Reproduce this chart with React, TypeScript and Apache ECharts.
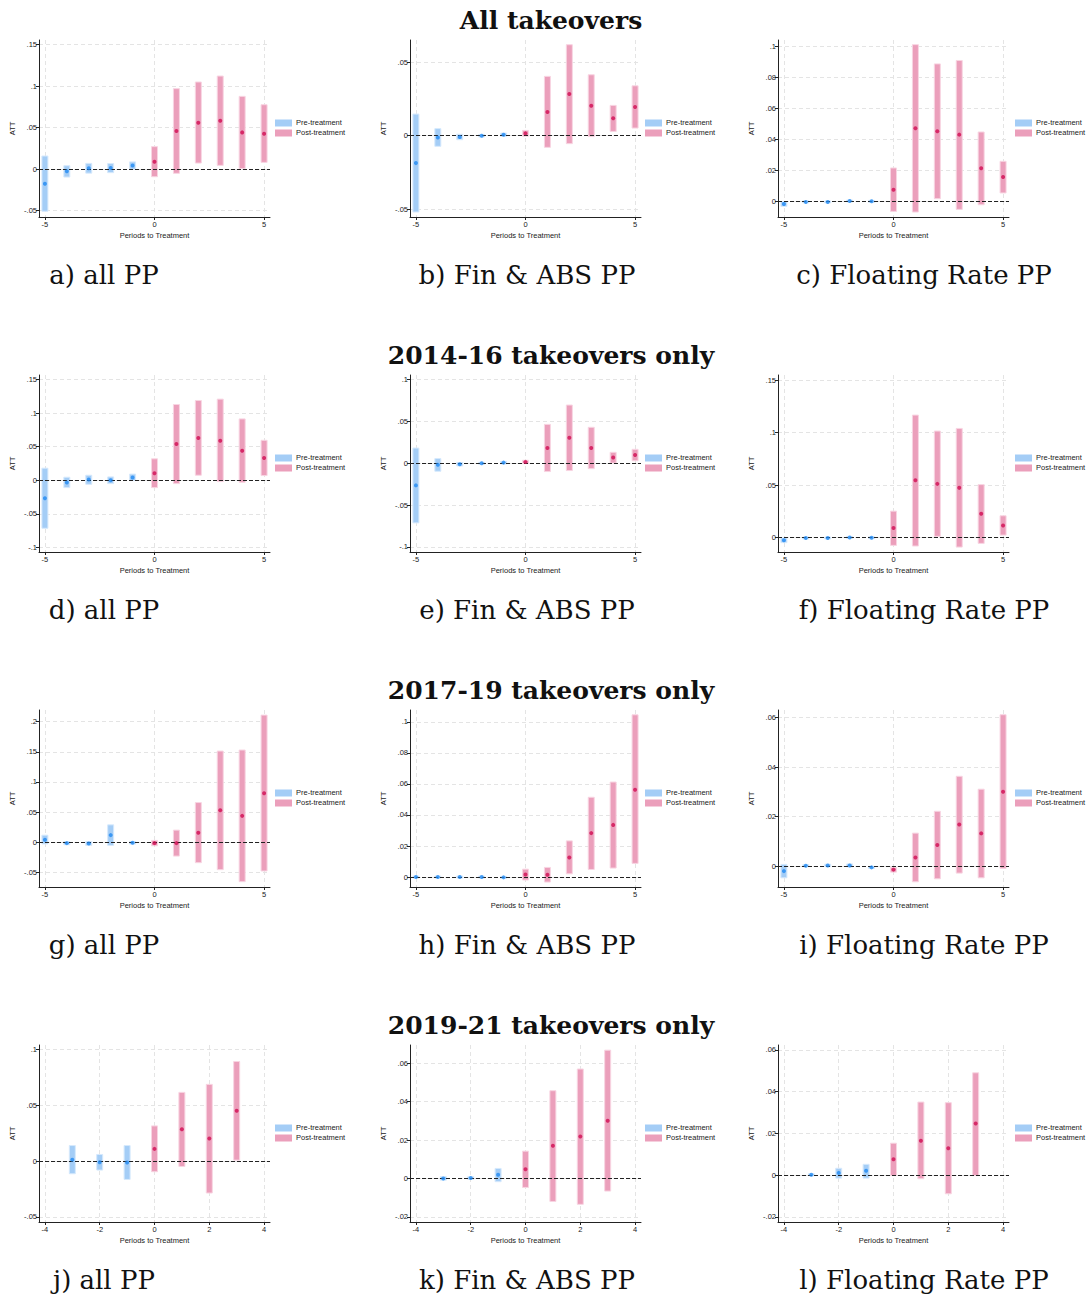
import React, { useEffect, useRef } from 'react';
import * as echarts from 'echarts';

// ---------- data ----------
const periodsPre10 = [-5, -4, -3, -2, -1];
const periodsPost10 = [0, 1, 2, 3, 4, 5];
const periodsPre8 = [-3, -2, -1];
const periodsPost8 = [0, 1, 2, 3];
const xTicks10 = [-5, 0, 5];
const xTicks8 = [-4, -2, 0, 2, 4];

const rowTitles = ['All takeovers', '2014-16 takeovers only', '2017-19 takeovers only', '2019-21 takeovers only'];
const captions = [
  'a) all PP', 'b) Fin & ABS PP', 'c) Floating Rate PP',
  'd) all PP', 'e) Fin & ABS PP', 'f) Floating Rate PP',
  'g) all PP', 'h) Fin & ABS PP', 'i) Floating Rate PP',
  'j) all PP', 'k) Fin & ABS PP', 'l) Floating Rate PP',
];
const legendNames = ['Pre-treatment', 'Post-treatment'];

// [estimate, lower, upper]
const aPre = [[-0.0177, -0.051, 0.0157], [-0.0027, -0.0097, 0.004], [0.001, -0.005, 0.0068], [0.0012, -0.0044, 0.0066], [0.0042, -0.0003, 0.0086]];
const aPost = [[0.0088, -0.0093, 0.027], [0.0459, -0.0052, 0.097], [0.0559, 0.0072, 0.105], [0.0583, 0.0044, 0.1122], [0.0442, 0.0005, 0.0877], [0.0426, 0.008, 0.0776]];
const bPre = [[-0.0186, -0.0518, 0.0147], [-0.0012, -0.0072, 0.0048], [-0.0009, -0.0027, 0.001], [0.0, -0.0009, 0.0009], [0.0007, -0.0004, 0.0018]];
const bPost = [[0.0016, -0.0003, 0.0036], [0.0161, -0.0079, 0.0403], [0.0283, -0.0054, 0.0618], [0.0204, -0.0006, 0.0414], [0.0118, 0.0029, 0.0206], [0.0195, 0.0052, 0.0339]];
const cPre = [[-0.0017, -0.0033, -0.0001], [-0.0004, -0.0008, 0.0001], [-0.0004, -0.0008, 0.0], [0.0002, -0.0002, 0.0006], [0.0, -0.0004, 0.0004]];
const cPost = [[0.0075, -0.0065, 0.0215], [0.0471, -0.0069, 0.101], [0.0452, 0.0017, 0.0886], [0.043, -0.0052, 0.0908], [0.0213, -0.0022, 0.0447], [0.0157, 0.0054, 0.0258]];
const dPre = [[-0.0268, -0.0716, 0.018], [-0.0032, -0.011, 0.0045], [0.0012, -0.006, 0.0075], [0.0, -0.005, 0.005], [0.0042, -0.0005, 0.0092]];
const dPost = [[0.0105, -0.011, 0.032], [0.054, -0.005, 0.113], [0.063, 0.0075, 0.119], [0.059, -0.002, 0.121], [0.044, -0.003, 0.0915], [0.0333, 0.007, 0.0596]];
const ePre = [[-0.0264, -0.0712, 0.0182], [-0.0018, -0.0095, 0.0056], [-0.0012, -0.0032, 0.001], [0.0, -0.0008, 0.0008], [0.0008, -0.0008, 0.0024]];
const ePost = [[0.0016, -0.0004, 0.0036], [0.0183, -0.0099, 0.0465], [0.0306, -0.0087, 0.0696], [0.0183, -0.0064, 0.043], [0.0068, 0.0003, 0.0131], [0.01, 0.003, 0.0167]];
const fPre = [[-0.0025, -0.0047, -0.0002], [-0.0003, -0.0007, 0.0001], [-0.0003, -0.0007, 0.0001], [0.0003, -0.0001, 0.0007], [0.0, -0.0004, 0.0004]];
const fPost = [[0.0092, -0.0073, 0.0253], [0.0548, -0.0079, 0.1168], [0.0513, 0.0013, 0.1016], [0.0475, -0.0089, 0.1041], [0.0228, -0.0054, 0.0506], [0.0117, 0.0025, 0.0209]];
const gPre = [[0.004, -0.003, 0.0115], [-0.0017, -0.0044, 0.0008], [-0.0022, -0.0055, 0.0008], [0.0116, -0.0055, 0.0287], [-0.0011, -0.0033, 0.001]];
const gPost = [[-0.0017, -0.0061, 0.0028], [-0.0017, -0.0232, 0.0199], [0.0155, -0.0342, 0.0657], [0.053, -0.0458, 0.1513], [0.0436, -0.0657, 0.153], [0.0812, -0.048, 0.211]];
const hPre = [[0.0, -0.0004, 0.0004], [0.0, -0.0004, 0.0004], [0.0, -0.0004, 0.0004], [0.0, -0.0004, 0.0004], [-0.0002, -0.0006, 0.0002]];
const hPost = [[0.0017, -0.0019, 0.0051], [0.0015, -0.0032, 0.0062], [0.0126, 0.0021, 0.0233], [0.0283, 0.0049, 0.0514], [0.0336, 0.0058, 0.0612], [0.0563, 0.0088, 0.1045]];
const iPre = [[-0.0019, -0.0046, 0.0008], [0.0003, -0.0001, 0.0007], [0.0004, -0.0001, 0.0009], [0.0004, -0.0002, 0.001], [-0.0004, -0.0008, 0.0]];
const iPost = [[-0.0013, -0.0023, -0.0004], [0.0036, -0.0062, 0.0134], [0.0086, -0.005, 0.0222], [0.0169, -0.0027, 0.0363], [0.0133, -0.0046, 0.0311], [0.0301, -0.0008, 0.0611]];
const jPre = [[0.0013, -0.0113, 0.014], [-0.001, -0.008, 0.006], [-0.0012, -0.0164, 0.014]];
const jPost = [[0.011, -0.0095, 0.0316], [0.0286, -0.0048, 0.0617], [0.0203, -0.0286, 0.0689], [0.0453, 0.0009, 0.0894]];
const kPre = [[0.0, -0.0009, 0.001], [0.0002, -0.0005, 0.0009], [0.0019, -0.0017, 0.0052]];
const kPost = [[0.0048, -0.0047, 0.0142], [0.017, -0.012, 0.0457], [0.0218, -0.0135, 0.057], [0.03, -0.0066, 0.0668]];
const lPre = [[0.0002, -0.0001, 0.0005], [0.0011, -0.0014, 0.0033], [0.0021, -0.0014, 0.0052]];
const lPost = [[0.0076, -0.0002, 0.0153], [0.0165, -0.0017, 0.035], [0.0129, -0.0089, 0.0347], [0.0247, -0.0002, 0.049]];

const yTicksA = [-0.05, 0, 0.05, 0.1, 0.15];
const yTicksB = [-0.05, 0, 0.05];
const yTicksC = [0, 0.02, 0.04, 0.06, 0.08, 0.1];
const yTicksD = [-0.1, -0.05, 0, 0.05, 0.1, 0.15];
const yTicksE = [-0.1, -0.05, 0, 0.05, 0.1];
const yTicksF = [0, 0.05, 0.1, 0.15];
const yTicksG = [-0.05, 0, 0.05, 0.1, 0.15, 0.2];
const yTicksH = [0, 0.02, 0.04, 0.06, 0.08, 0.1];
const yTicksI = [0, 0.02, 0.04, 0.06];
const yTicksJ = [-0.05, 0, 0.05, 0.1];
const yTicksK = [-0.02, 0, 0.02, 0.04, 0.06];
const yTicksL = [-0.02, 0, 0.02, 0.04, 0.06];

const yRangeA = [-0.0579, 0.1557];
const yRangeB = [-0.0552, 0.065];
const yRangeC = [-0.0101, 0.104];
const yRangeD = [-0.107, 0.157];
const yRangeE = [-0.106, 0.1055];
const yRangeF = [-0.0136, 0.155];
const yRangeG = [-0.0746, 0.2195];
const yRangeH = [-0.0064, 0.1076];
const yRangeI = [-0.0083, 0.063];
const yRangeJ = [-0.0546, 0.1042];
const yRangeK = [-0.0227, 0.0695];
const yRangeL = [-0.0224, 0.0623];

// ---------- styles / layout ----------
const SANS = "'Liberation Sans', Arial, Helvetica, sans-serif";
const SERIF = "'DejaVu Serif', serif";
const PRE_FILL = '#a4cdf6';
const PRE_STROKE = '#d6e9fc';
const PRE_PT = '#2189f2';
const POST_FILL = '#eb9fbb';
const POST_STROKE = '#f8d5e2';
const POST_PT = '#d10b52';
const AXIS = '#222';
const GRID_LINE = '#e4e4e4';

const colLeft = [39, 410, 778];
const colCaptionX = [104, 527, 924];
const legendX = [275, 645, 1015];
const rowTop = [40, 375, 710, 1045];
const plotW = 231;
const plotH = 177;

const panelPre = [aPre, bPre, cPre, dPre, ePre, fPre, gPre, hPre, iPre, jPre, kPre, lPre];
const panelPost = [aPost, bPost, cPost, dPost, ePost, fPost, gPost, hPost, iPost, jPost, kPost, lPost];
const panelYTicks = [yTicksA, yTicksB, yTicksC, yTicksD, yTicksE, yTicksF, yTicksG, yTicksH, yTicksI, yTicksJ, yTicksK, yTicksL];
const panelYRange = [yRangeA, yRangeB, yRangeC, yRangeD, yRangeE, yRangeF, yRangeG, yRangeH, yRangeI, yRangeJ, yRangeK, yRangeL];

const fmt = (v: number) => {
  const s = (Math.round(v * 10000) / 10000).toString();
  return s.replace(/^(-?)0\./, '$1.');
};

function ciRender(fill: string, stroke: string) {
  return (params: any, api: any) => {
    const x = api.value(0);
    const lo = api.value(1);
    const hi = api.value(2);
    const pTop = api.coord([x, hi]);
    const pBot = api.coord([x, lo]);
    const w = 6;
    const h = Math.max(pBot[1] - pTop[1], 2);
    const yTop = pBot[1] - pTop[1] < 2 ? (pTop[1] + pBot[1]) / 2 - 1 : pTop[1];
    return {
      type: 'rect',
      shape: { x: pTop[0] - w / 2, y: yTop, width: w, height: h },
      style: { fill, stroke, lineWidth: 1 },
    };
  };
}

function buildOption() {
  const grid: any[] = [];
  const xAxis: any[] = [];
  const yAxis: any[] = [];
  const series: any[] = [];
  const graphic: any[] = [];

  for (let i = 0; i < 12; i++) {
    const row = Math.floor(i / 3);
    const col = i % 3;
    const short = row === 3;
    const pPre = short ? periodsPre8 : periodsPre10;
    const pPost = short ? periodsPost8 : periodsPost10;
    const xt = short ? xTicks8 : xTicks10;
    const span = xt[xt.length - 1] - xt[0];
    const pad = span * 0.027;

    grid.push({ left: colLeft[col], top: rowTop[row], width: plotW, height: plotH, containLabel: false });
    xAxis.push({
      type: 'value', gridIndex: i, min: xt[0] - pad, max: xt[xt.length - 1] + pad,
      axisLine: { show: true, onZero: false, lineStyle: { color: AXIS, width: 1 } },
      axisTick: { show: true, length: 3, customValues: xt, lineStyle: { color: AXIS, width: 1 } },
      axisLabel: { customValues: xt, fontSize: 7.5, color: AXIS, margin: 3, fontFamily: SANS, formatter: (v: number) => fmt(v) },
      splitLine: { show: true, lineStyle: { color: GRID_LINE, type: [4, 3], width: 1 } },
      name: 'Periods to Treatment', nameLocation: 'middle', nameGap: 14,
      nameTextStyle: { fontSize: 7.5, color: AXIS, fontFamily: SANS },
    });
    const yt = panelYTicks[i];
    const yr = panelYRange[i];
    yAxis.push({
      type: 'value', gridIndex: i, min: yr[0], max: yr[1],
      axisLine: { show: true, onZero: false, lineStyle: { color: AXIS, width: 1 } },
      axisTick: { show: true, length: 3, customValues: yt, lineStyle: { color: AXIS, width: 1 } },
      axisLabel: { customValues: yt, fontSize: 7.5, color: AXIS, margin: 2, fontFamily: SANS, formatter: (v: number) => fmt(v) },
      splitLine: { show: true, lineStyle: { color: GRID_LINE, type: [4, 3], width: 1 } },
      name: 'ATT', nameLocation: 'middle', nameGap: 23, nameRotate: 90,
      nameTextStyle: { fontSize: 7.5, color: AXIS, fontFamily: SANS },
    });

    const pre = panelPre[i];
    const post = panelPost[i];
    series.push({
      type: 'custom', name: legendNames[0], xAxisIndex: i, yAxisIndex: i,
      renderItem: ciRender(PRE_FILL, PRE_STROKE),
      encode: { x: 0, y: [1, 2] },
      data: pre.map((d, k) => [pPre[k], d[1], d[2]]),
      z: 2, silent: true,
    });
    series.push({
      type: 'custom', name: legendNames[1], xAxisIndex: i, yAxisIndex: i,
      renderItem: ciRender(POST_FILL, POST_STROKE),
      encode: { x: 0, y: [1, 2] },
      data: post.map((d, k) => [pPost[k], d[1], d[2]]),
      z: 2, silent: true,
    });
    series.push({
      type: 'scatter', xAxisIndex: i, yAxisIndex: i, symbolSize: 4,
      itemStyle: { color: PRE_PT }, z: 4, silent: true,
      data: pre.map((d, k) => [pPre[k], d[0]]),
    });
    series.push({
      type: 'scatter', xAxisIndex: i, yAxisIndex: i, symbolSize: 4,
      itemStyle: { color: POST_PT }, z: 4, silent: true,
      data: post.map((d, k) => [pPost[k], d[0]]),
      markLine: {
        silent: true, symbol: ['none', 'none'], label: { show: false },
        lineStyle: { color: '#222', type: [4, 2], width: 1 },
        data: [{ yAxis: 0 }],
        z: 3,
      },
    });

    // legend
    const ly = rowTop[row] + 83;
    [PRE_FILL, POST_FILL].forEach((c, k) => {
      graphic.push({ type: 'rect', left: legendX[col], top: ly + k * 10 - 3.5, shape: { width: 17, height: 7 }, style: { fill: c } });
      graphic.push({
        type: 'text', left: legendX[col] + 21, top: ly + k * 10 - 4.5,
        style: { text: legendNames[k], fontSize: 7.5, fill: AXIS, fontFamily: SANS },
      });
    });

    // caption
    graphic.push({
      type: 'text', x: colCaptionX[col], y: rowTop[row] + 235,
      style: { text: captions[i], fontSize: 26, fill: '#111', fontFamily: SERIF, align: 'center', verticalAlign: 'middle' },
    });
  }

  rowTitles.forEach((t, r) => {
    graphic.push({
      type: 'text', x: 551, y: rowTop[r] - 20,
      style: { text: t, fontSize: 25, fontWeight: 'bold', fill: '#111', fontFamily: SERIF, align: 'center', verticalAlign: 'middle' },
    });
  });

  return { animation: false, backgroundColor: '#fff', grid, xAxis, yAxis, series, graphic };
}

export default function App() {
  const ref = useRef<HTMLDivElement>(null);
  useEffect(() => {
    const chart = echarts.init(ref.current!, null, { renderer: 'svg' });
    chart.setOption(buildOption() as any);
    return () => chart.dispose();
  }, []);
  return <div ref={ref} style={{ position: 'absolute', left: 0, top: 0, width: 1087, height: 1299, background: '#fff' }} />;
}
